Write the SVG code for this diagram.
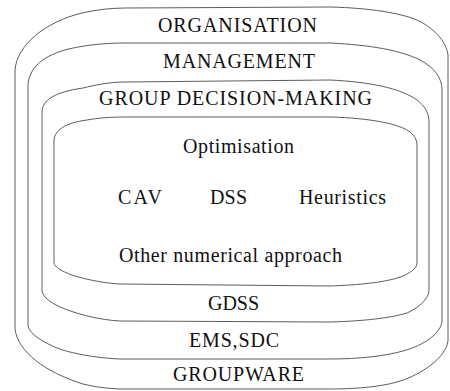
<svg xmlns="http://www.w3.org/2000/svg" width="450" height="391" viewBox="0 0 450 391">
<style>
.layer{fill:#fff;stroke:#4a4a4a;stroke-width:0.9}
.t{font-family:"Liberation Serif","Times New Roman",serif;font-size:20px;fill:#111}
</style>
<rect width="450" height="391" fill="#fff"/>
<g id="organisation">
<path class="layer" d="M15,329 L15,70 C17,45 45,22 82,13 C95,10 110,8 125,8 L330,7 C370,8 400,13 417,20 C432,27 446,40 448,55 L448,341 C446,358 420,375 400,381 C385,386 360,389 330,389 L120,389 C100,388 92,386 83,384 C45,372 18,352 15,329 Z"/>
<text class="t" x="158" y="32" textLength="159" lengthAdjust="spacing">ORGANISATION</text>
<text class="t" x="173" y="381" textLength="131" lengthAdjust="spacing">GROUPWARE</text>
</g>
<g id="management">
<path class="layer" d="M28,326 L28,85 C29,70 40,55 73,48 C88,45 105,43 125,43 L330,43 C370,45 400,50 420,60 C435,68 442,78 442,90 L442,321 C441,333 425,345 403,351 C385,356 360,359 330,359 L120,359 C95,358 70,353 57,348 C45,343 30,335 28,326 Z"/>
<text class="t" x="163" y="68" textLength="152" lengthAdjust="spacing">MANAGEMENT</text>
<text class="t" x="189" y="347" textLength="90" lengthAdjust="spacing">EMS,SDC</text>
</g>
<g id="group-decision-making">
<path class="layer" d="M42,291 L42,112 C42,100 55,92 83,88 C95,85 110,82 125,82 L330,80 C370,82 400,88 417,100 C425,106 429,113 429,122 L429,291 C428,300 418,308 407,313 C390,318 365,321 330,322 L120,321 C100,320 75,314 58,306 C50,302 43,297 42,291 Z"/>
<text class="t" x="99" y="105" textLength="273" lengthAdjust="spacing">GROUP DECISION-MAKING</text>
<text class="t" x="208" y="310" textLength="51" lengthAdjust="spacing">GDSS</text>
</g>
<g id="methods">
<path class="layer" d="M54,263 L54,140 C55,130 65,123 87,120 C98,118 110,117 125,117 L330,117 C370,118 400,124 410,132 C415,136 417,140 417,146 L417,264 C416,270 405,276 397,278 C385,282 360,285 330,286 L120,284 C100,283 75,277 67,273 C60,270 55,267 54,263 Z"/>
<text class="t" x="183" y="153" textLength="111" lengthAdjust="spacing">Optimisation</text>
<text class="t" x="118" y="204" textLength="44" lengthAdjust="spacing">CAV</text>
<text class="t" x="210" y="204" textLength="37" lengthAdjust="spacing">DSS</text>
<text class="t" x="299" y="204" textLength="87" lengthAdjust="spacing">Heuristics</text>
<text class="t" x="119" y="262" textLength="223" lengthAdjust="spacing">Other numerical approach</text>
</g>
<g id="connectors"/>
</svg>
